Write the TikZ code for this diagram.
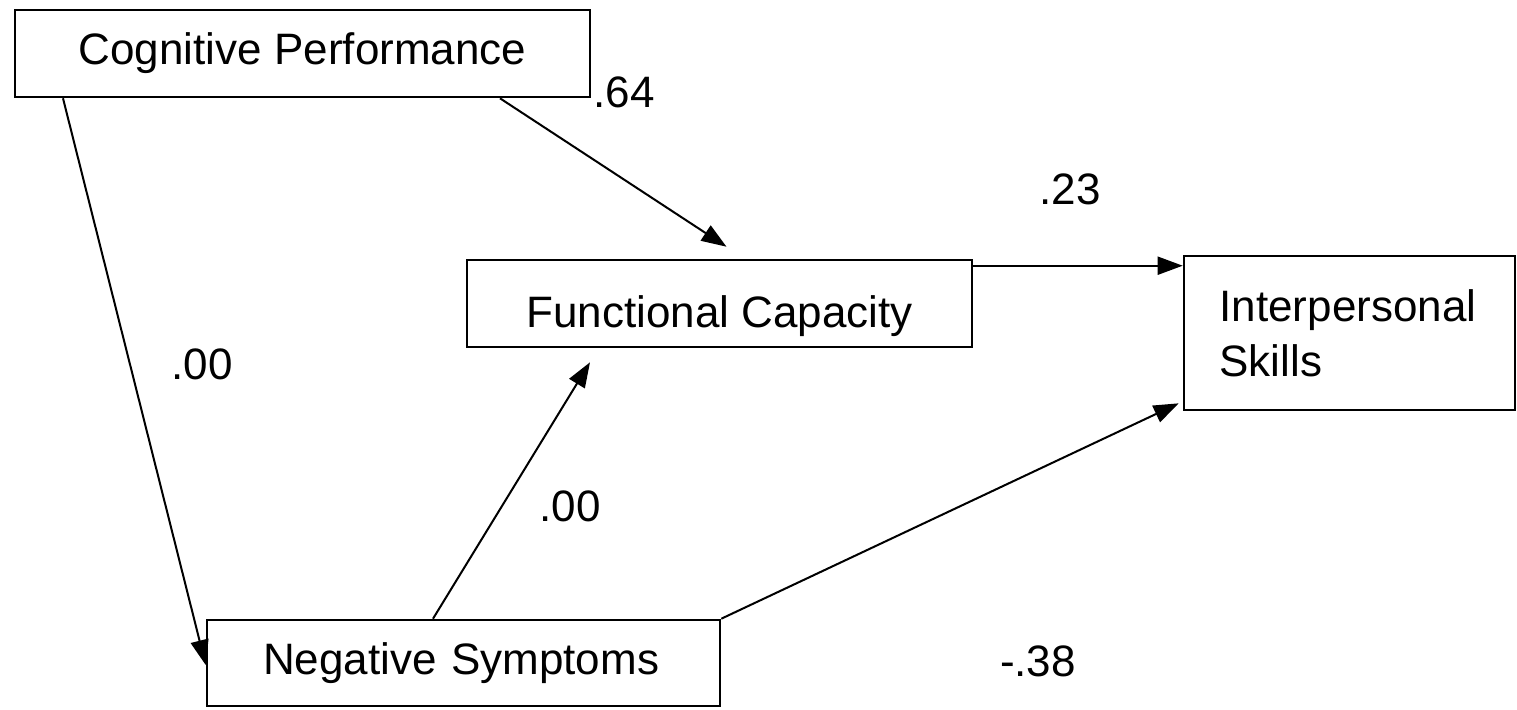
\documentclass[tikz,border=0pt]{standalone}
\usepackage{fontspec}
\setmainfont{Liberation Sans}
\usetikzlibrary{positioning,arrows.meta}

\tikzset{
  varbox/.style={draw,line width=1.3pt,rectangle,inner sep=0pt,
        font=\fontsize{22}{27.5}\selectfont},
  path/.style={line width=1pt,-{Triangle[length=12.5pt,width=9pt]}},
  coef/.style={font=\fontsize{22}{27.5}\selectfont,inner sep=0pt}
}

\begin{document}
\begin{tikzpicture}[x=0.5pt,y=-0.5pt]
  \useasboundingbox (0,0) rectangle (1517,709);

  % variables
  \node[varbox,minimum width=287.5pt,minimum height=43.5pt] (cog) at (302.5,53.5) {Cognitive Performance};
  \node[varbox,minimum width=252.5pt,minimum height=43.5pt,text height=24pt,text depth=0pt] (func) at (719.5,303.5) {Functional Capacity};
  \node[varbox,minimum width=165.5pt,minimum height=77pt,align=left,text width=130pt,inner xsep=17.75pt] (inter) at (1349.5,333) {Interpersonal\\Skills};
  \node[varbox,minimum width=256.5pt,minimum height=43pt,align=left,text width=200.5pt,inner xsep=28pt] (neg) at (463.5,663) {Negative Symptoms};

  % paths
  \draw[path] ([xshift=98.75pt]cog.south) -- ([xshift=3.5pt,yshift=6pt]func.north);
  \draw[path] ([xshift=-119.75pt]cog.south) -- ([yshift=-1pt]neg.west);
  \draw[path] ([yshift=-3.5pt]func.north east) -- ([yshift=-3.5pt]func.north east -| inter.west);
  \draw[path] ([xshift=-15.25pt]neg.north) -- ([xshift=-64.75pt,yshift=-7pt]func.south);
  \draw[path] (neg.north east) -- ([xshift=-2pt,yshift=4pt]inter.south west);

  % coefficients
  \node[coef] (c64) at (624,92) {.64};
  \node[coef] (c23) at (1070,189) {.23};
  \node[coef] (c00a) at (202,364) {.00};
  \node[coef] (c00b) at (570,506) {.00};
  \node[coef] (c38) at (1038,661) {-.38};
\end{tikzpicture}
\end{document}
